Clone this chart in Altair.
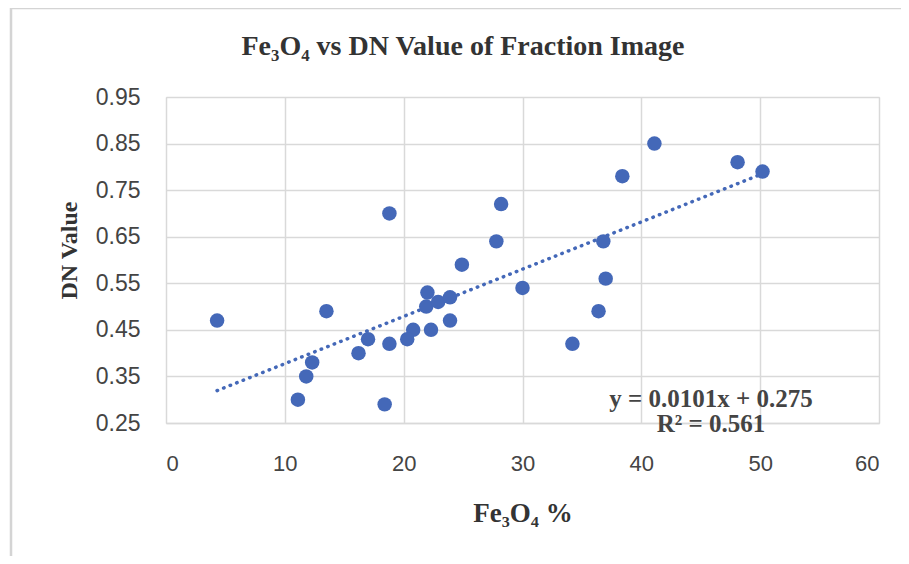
import altair as alt
import pandas as pd

# Data
fe3o4 = [4.3, 13.5, 18.8, 28.2, 27.8, 24.9, 30.0, 22.0, 21.9, 22.9, 23.9, 23.9,
         22.3, 20.8, 20.3, 18.8, 17.0, 16.2, 12.3, 11.8, 11.1, 18.4,
         41.1, 48.1, 50.2, 38.4, 36.8, 37.0, 36.4, 34.2]
dn_value = [0.47, 0.49, 0.70, 0.72, 0.64, 0.59, 0.54, 0.53, 0.50, 0.51, 0.52, 0.47,
            0.45, 0.45, 0.43, 0.42, 0.43, 0.40, 0.38, 0.35, 0.30, 0.29,
            0.85, 0.81, 0.79, 0.78, 0.64, 0.56, 0.49, 0.42]
x_ticks = [0, 10, 20, 30, 40, 50, 60]
y_ticks = [0.25, 0.35, 0.45, 0.55, 0.65, 0.75, 0.85, 0.95]
eq_line1 = "y = 0.0101x + 0.275"
eq_line2 = "R² = 0.561"

df = pd.DataFrame({"x": fe3o4, "y": dn_value})

BLUE = "#4468B8"
GRID = "#d9d9d9"
SERIF = "Liberation Serif, Times New Roman, serif"
SANS = "Liberation Sans, Arial, sans-serif"

xscale = alt.Scale(domain=[0, 60], nice=False, zero=False)
yscale = alt.Scale(domain=[0.25, 0.95], nice=False, zero=False)

xaxis = alt.Axis(values=x_ticks, format="d", title="Fe₃O₄ %", grid=True,
                 gridColor=GRID, gridWidth=1.5, domainColor=GRID, domainWidth=1.5,
                 ticks=False, labelFont=SANS, labelFontSize=22, labelColor="#444444",
                 labelPadding=30, titleFont=SERIF, titleFontSize=27, titleFontWeight="bold",
                 titleColor="#333333", titlePadding=26)
yaxis = alt.Axis(values=y_ticks, format=".2f", title="DN Value", grid=True,
                 gridColor=GRID, gridWidth=1.5, domain=False,
                 ticks=False, labelFont=SANS, labelFontSize=23, labelColor="#444444",
                 labelPadding=26, titleFont=SERIF, titleFontSize=24, titleFontWeight="bold",
                 titleColor="#333333", titlePadding=14, titleY=153)

points = alt.Chart(df).mark_circle(size=210, color=BLUE, opacity=1).encode(
    x=alt.X("x:Q", scale=xscale, axis=xaxis),
    y=alt.Y("y:Q", scale=yscale, axis=yaxis),
)

trend = alt.Chart(df).transform_regression("x", "y").mark_line(
    color=BLUE, strokeWidth=3.5, strokeDash=[0.5, 6.5], strokeCap="round"
).encode(
    x=alt.X("x:Q", scale=xscale),
    y=alt.Y("y:Q", scale=yscale),
)

one = pd.DataFrame({"a": [0]})
eq1 = alt.Chart(one).mark_text(
    font=SERIF, fontSize=25, fontWeight="bold", color="#444444", align="center",
    baseline="alphabetic", text=eq_line1
).encode(x=alt.value(545), y=alt.value(310))
eq2 = alt.Chart(one).mark_text(
    font=SERIF, fontSize=25, fontWeight="bold", color="#444444", align="center",
    baseline="alphabetic", text=eq_line2
).encode(x=alt.value(545), y=alt.value(335))

frame_left = alt.Chart(one).mark_rule(color="#d4d4d4", strokeWidth=2.5).encode(
    x=alt.value(-155), y=alt.value(-89), y2=alt.value(470)
)
frame_top = alt.Chart(one).mark_rule(color="#d4d4d4", strokeWidth=2.5).encode(
    x=alt.value(-155), x2=alt.value(735), y=alt.value(-89)
)
title = alt.Chart(one).mark_text(
    font=SERIF, fontSize=28, fontWeight="bold", color="#333333", align="center",
    baseline="alphabetic", text="Fe₃O₄ vs DN Value of Fraction Image"
).encode(x=alt.value(297), y=alt.value(-42))

chart = alt.layer(frame_left, frame_top, trend, points, eq1, eq2, title).properties(
    width=713,
    height=326,
    autosize=alt.AutoSizeParams(type="none"),
    padding={"left": 158, "top": 89, "right": 22, "bottom": 133},
).configure_view(stroke=GRID, strokeWidth=1.5).configure(background="white")

chart.save("out.html", embed_options={"renderer": "svg", "actions": False})
